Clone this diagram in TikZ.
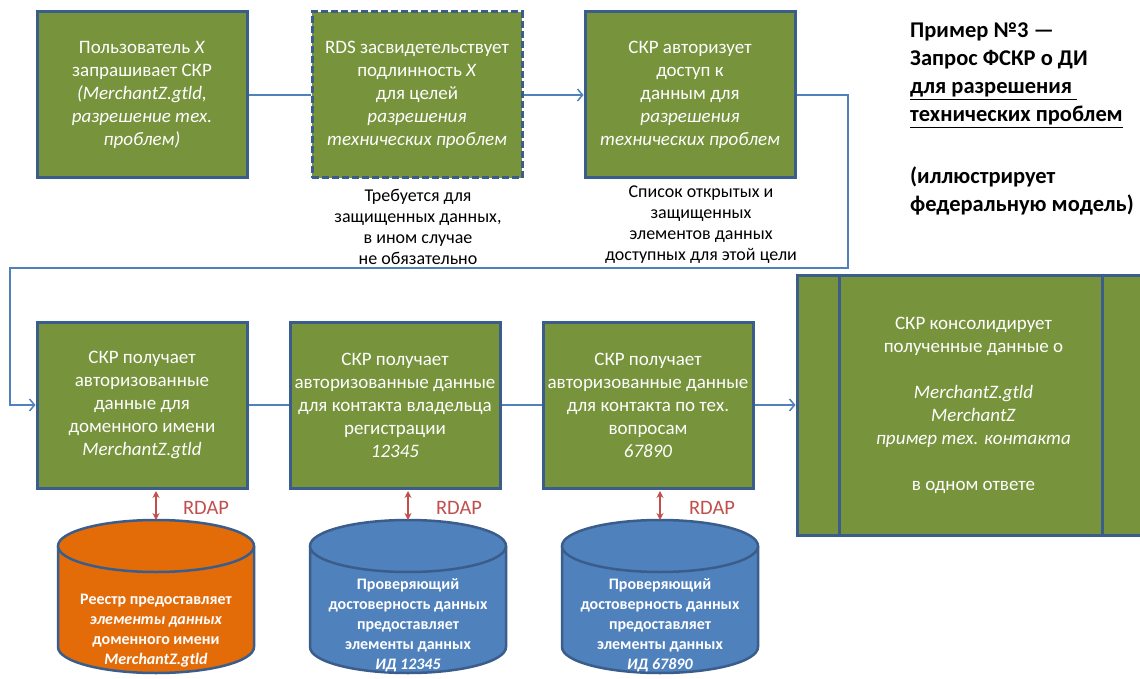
\documentclass[tikz,border=0pt]{standalone}
\usepackage{fontspec}
\setmainfont{Carlito}
\usetikzlibrary{arrows.meta}
\definecolor{boxgreen}{HTML}{77933C}
\definecolor{boxborder}{HTML}{3A5D8C}
\definecolor{connblue}{HTML}{4F81BD}
\definecolor{cylorange}{HTML}{E36C09}
\definecolor{cylblue}{HTML}{4F81BD}
\definecolor{rdapred}{HTML}{C0504D}
\definecolor{rdaptext}{HTML}{C0504D}
\newcommand\dbcyl[2]{%
  \fill[#2] (#1-98,-546) -- (#1-98,-647) arc[start angle=180,end angle=360,x radius=98,y radius=26] -- (#1+98,-546) -- cycle;
  \draw[boxborder,line width=2.5pt] (#1-98,-546) -- (#1-98,-647) arc[start angle=180,end angle=360,x radius=98,y radius=26] -- (#1+98,-546);
  \filldraw[fill=#2,draw=boxborder,line width=2.5pt] (#1,-546) ellipse [x radius=98, y radius=26];
}
\begin{document}
\begin{tikzpicture}[x=1pt,y=1pt,
  gbox/.style={draw=boxborder, line width=3pt, fill=boxgreen, minimum width=210pt, minimum height=166pt, text=white, align=center, font=\fontsize{19}{23}\selectfont, inner sep=0pt},
  conn/.style={draw=connblue, line width=1.5pt},
  arr/.style={-{Straight Barb[length=5pt,width=12pt]}},
  rdap/.style={rdapred, line width=1.5pt, {Stealth[length=7pt,width=7pt]}-{Stealth[length=7pt,width=7pt]}},
  note/.style={align=center, font=\fontsize{18}{21}\selectfont},
  ctext/.style={text=white, align=center, font=\bfseries\fontsize{16}{20}\selectfont},
  rlabel/.style={text=rdaptext, font=\fontsize{20.5}{23}\selectfont}]
\useasboundingbox (0,0) rectangle (1140,-679);
\clip (0,0) rectangle (1140,-679);
\fill[white] (0,0) rectangle (1140,-679);

% top row
\node[gbox] (b1) at (142,-95) {Пользователь \textit{X}\\запрашивает СКР\\\textit{(MerchantZ.gtld,}\\\textit{разрешение тех.}\\\textit{проблем)}};
\node[gbox, dash pattern=on 7pt off 3pt] (b2) at (417,-95) {RDS засвидетельствует\\подлинность \textit{X}\\для целей\\\textit{разрешения}\\\textit{технических проблем}};
\node[gbox] (b3) at (690,-95) {СКР авторизует\\доступ к\\данным для\\\textit{разрешения}\\\textit{технических проблем}};

% notes
\node[note] (n1) at (418,-227) {Требуется для\\защищенных данных,\\в ином случае\\не обязательно};
\node[note] (n2) at (701,-225) {Список открытых и\\защищенных\\элементов данных\\доступных для этой цели};

% title
\node[anchor=north west, align=left, inner sep=0pt, font=\bfseries\fontsize{22.5}{28}\selectfont] (title) at (910,-23) {Пример №3 —\\Запрос ФСКР о ДИ\\\underline{для разрешения\ }\\\underline{технических проблем}\\[34pt](иллюстрирует\\федеральную модель)};

% bottom row
\node[gbox] (b4) at (142,-405) {СКР получает\\авторизованные\\данные для\\доменного имени\\\textit{MerchantZ.gtld}};
\node[gbox] (b5) at (395,-405) {СКР получает\\авторизованные данные\\для контакта владельца\\регистрации\\\textit{12345}};
\node[gbox] (b6) at (648,-405) {СКР получает\\авторизованные данные\\для контакта по тех.\\вопросам\\\textit{67890}};
\node[gbox, minimum width=353pt, minimum height=260pt] (b7) at (973.5,-405) {СКР консолидирует\\полученные данные о\\[23pt]\textit{MerchantZ.gtld}\\\textit{MerchantZ}\\\textit{пример тех. контакта}\\[23pt]в одном ответе};
\draw[boxborder, line width=3pt] ([xshift=44pt]b7.north west) -- ([xshift=44pt]b7.south west);
\draw[boxborder, line width=3pt] ([xshift=307pt]b7.north west) -- ([xshift=307pt]b7.south west);

% connectors
\coordinate (rt) at (848,-268);
\coordinate (lt) at (10,-268);
\draw[conn] (b1.east) -- (b2.west);
\draw[conn,arr] (b2.east) -- (b3.west);
\draw[conn,arr] (b3.east) -| (rt) -- (lt) |- (b4.west);
\draw[conn] (b4.east) -- (b5.west);
\draw[conn] (b5.east) -- (b6.west);
\draw[conn,arr] (b6.east) -- (b7.west);

% cylinders
\dbcyl{156}{cylorange}
\dbcyl{408}{cylblue}
\dbcyl{660}{cylblue}
\node[ctext] (c1) at (156,-631) {Реестр предоставляет\\\textit{элементы данных}\\доменного имени\\\textit{MerchantZ.gtld}};
\node[ctext] (c2) at (408,-625) {Проверяющий\\достоверность данных\\предоставляет\\элементы данных\\\textit{ИД 12345}};
\node[ctext] (c3) at (660,-625) {Проверяющий\\достоверность данных\\предоставляет\\элементы данных\\\textit{ИД 67890}};
\coordinate (c1top) at (156,-520);
\coordinate (c2top) at (408,-520);
\coordinate (c3top) at (660,-520);

% RDAP links
\draw[rdap, shorten <=1.5pt] (c1top |- b4.south) -- (c1top);
\draw[rdap, shorten <=1.5pt] (c2top |- b5.south) -- (c2top);
\draw[rdap, shorten <=1.5pt] (c3top |- b6.south) -- (c3top);
\node[rlabel] (r1) at (206,-508) {RDAP};
\node[rlabel] (r2) at (459,-508) {RDAP};
\node[rlabel] (r3) at (712,-508) {RDAP};
\end{tikzpicture}
\end{document}
